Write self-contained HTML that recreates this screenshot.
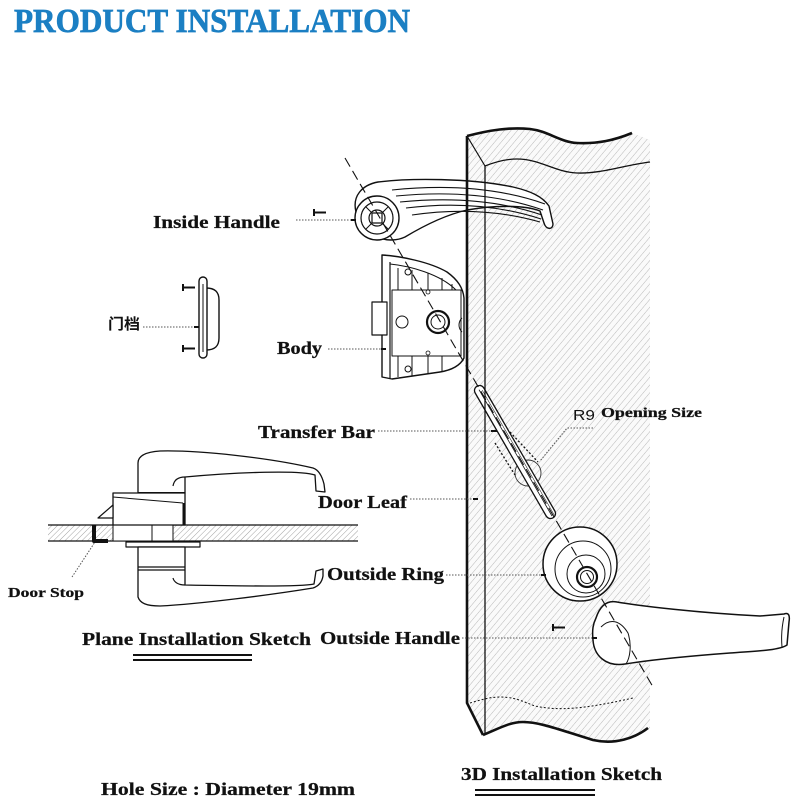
<!DOCTYPE html>
<html><head><meta charset="utf-8"><style>
html,body{margin:0;padding:0;background:#fff;}
svg{display:block;}
.lb{font-family:"Liberation Serif","Noto Serif CJK SC",serif;font-weight:bold;fill:#111;stroke:#111;stroke-width:0.25;}
.ld{stroke:#555;stroke-width:1;stroke-dasharray:1.5 1.5;fill:none;}
</style></head><body>
<svg width="800" height="800" viewBox="0 0 800 800" xmlns="http://www.w3.org/2000/svg">
<defs>
<pattern id="h" width="5" height="5" patternUnits="userSpaceOnUse" patternTransform="rotate(40)">
<rect width="5" height="5" fill="#fafafa"/>
<line x1="0" y1="0" x2="0" y2="5" stroke="#b8b8b8" stroke-width="1"/>
</pattern>
<pattern id="h2" width="4" height="4" patternUnits="userSpaceOnUse" patternTransform="rotate(45)">
<rect width="4" height="4" fill="#fff"/>
<line x1="0" y1="0" x2="0" y2="4" stroke="#999" stroke-width="0.9"/>
</pattern>
</defs>

<!-- Title -->
<text x="14" y="32" font-family="Liberation Serif, serif" font-weight="bold" font-size="34" fill="#1b7fc3" stroke="#1b7fc3" stroke-width="0.7" textLength="396" lengthAdjust="spacingAndGlyphs">PRODUCT INSTALLATION</text>

<!-- ============ DOOR (3D) ============ -->
<path d="M467,136 C490,130 510,127 530,129 C548,131 560,142 577,143 C598,144 615,140 632,133 L650,140 L650,728 C635,738 615,745 593,740 C560,730 540,722 523,722 C510,722 500,728 483,735 L467,703 Z" fill="url(#h)"/>

<!-- Inside handle -->
<g stroke="#111" fill="#fff" stroke-width="1.4" stroke-linejoin="round">
<path d="M356,212 C352,196 362,185 378,182 C410,178 470,178 513,187 C530,191 542,196 549,206 L553,224 C553,230 546,230 544,223 L540,211 C525,205 495,205 467,210 C445,215 425,225 405,237 C390,244 365,240 356,212 Z"/>
<g fill="none" stroke-width="1.1">
<path d="M392,190 Q480,181 545,204"/>
<path d="M396,196 Q480,188 543,210"/>
<path d="M400,202 Q480,194 542,215"/>
<path d="M406,208 Q480,199 541,219"/>
<path d="M412,215 Q480,205 540,222"/>
</g>
<circle cx="377" cy="218" r="22"/>
<circle cx="377" cy="218" r="16" stroke-width="1.2"/>
<path d="M366,207 L371,212 M388,207 L383,212 M366,229 L371,224 M388,229 L383,224" fill="none" stroke-width="1"/>
<circle cx="377" cy="218" r="8" stroke-width="1.2"/>
<rect x="372" y="213" width="10" height="10" stroke-width="1.2"/>
</g>

<!-- Lock body -->
<g stroke="#111" fill="#fff" stroke-width="1.4" stroke-linejoin="round">
<path d="M382,255 C400,256 430,262 447,272 C458,280 463,288 464,298 L464,358 C460,366 452,370 440,372 L392,379 L382,377 Z"/>
<path d="M390,264 C410,266 440,274 456,290" fill="none" stroke-width="1"/>
<line x1="390" y1="262" x2="390" y2="378" stroke-width="1.2"/>
<rect x="392" y="290" width="69" height="66" stroke-width="1"/>
<path d="M398,268 L398,290 M412,270 L412,290 M428,273 L428,290 M442,278 L442,290 M452,284 L452,290 M398,356 L398,377 M412,356 L412,376 M428,356 L428,374 M442,356 L442,372" fill="none" stroke-width="1"/>
<rect x="372" y="302" width="15" height="33" stroke-width="1.2"/>
<circle cx="402" cy="322" r="6" stroke-width="1"/>
<circle cx="438" cy="322" r="11" stroke-width="2.2"/>
<circle cx="438" cy="322" r="7" stroke-width="1"/>
<circle cx="428" cy="292" r="2" stroke-width="0.8"/>
<circle cx="428" cy="353" r="2" stroke-width="0.8"/>
<circle cx="408" cy="272" r="3" stroke-width="1"/>
<circle cx="408" cy="369" r="3" stroke-width="1"/>
<path d="M462,318 C458,322 458,328 462,332" fill="none" stroke-width="1"/>
</g>

<!-- Transfer bar -->
<g stroke="#111" fill="#fff" stroke-linejoin="round">
<circle cx="528" cy="473" r="13" stroke-width="0.9" fill="none" stroke="#333"/>
<g transform="translate(515,452) rotate(60)">
<rect x="-76" y="-5" width="152" height="10" rx="5" stroke-width="1.3"/>
<line x1="-72" y1="0" x2="74" y2="0" stroke-width="0.8"/>
<line x1="-70" y1="-2.5" x2="74" y2="-2.5" stroke-width="0.5"/>
</g>
<path d="M495,443 L515,475 M510,432 L538,462" stroke-width="1.3" stroke-dasharray="2 2" fill="none"/>
</g>

<!-- Outside ring -->
<g stroke="#111" fill="#fff">
<circle cx="580" cy="564" r="37" stroke-width="1.5"/>
<circle cx="583" cy="569" r="28" stroke-width="1"/>
<circle cx="586" cy="574" r="19" stroke-width="1"/>
<circle cx="587" cy="577" r="10" stroke-width="2.2"/>
<circle cx="587" cy="577" r="6.5" stroke-width="1"/>
</g>

<!-- Outside handle -->
<g stroke="#111" fill="#fff" stroke-width="1.5" stroke-linejoin="round">
<path d="M596,618 C600,606 607,600 617,602 C640,606 700,613 760,616 L784,614 C789,612 790,616 789,622 L787,645 C780,650 760,651 730,653 C690,656 650,660 625,664 C605,667 594,655 593,640 C592,630 593,624 596,618 Z"/>
<path d="M601,627 C610,618 620,620 628,633 C632,645 630,658 626,664" fill="none" stroke-width="1"/>
<path d="M784,617 C782,626 781,636 782,647" fill="none" stroke-width="1"/>
</g>

<!-- Door lines -->
<g stroke="#111" fill="none">
<path d="M467,136 L467,703 L483,735" stroke-width="2.6"/>
<line x1="485" y1="166" x2="485" y2="735" stroke-width="1.3"/>
<line x1="467" y1="136" x2="485" y2="166" stroke-width="1.2"/>
<path d="M467,136 C490,130 510,127 530,129 C548,131 560,142 577,143 C598,144 615,140 632,133" stroke-width="2.6"/>
<path d="M485,166 C495,162 505,159 517,159 C540,159 555,172 577,173 C600,174 625,165 650,162" stroke-width="1.3"/>
<path d="M483,735 C500,728 510,722 523,722 C540,722 560,730 593,740 C615,745 635,738 648,728" stroke-width="2.6"/>
<path d="M470,703 C480,700 490,697 500,697 C520,697 530,706 540,707 C560,710 580,710 633,698" stroke-width="1" stroke-dasharray="2 2"/>
</g>

<!-- Axis dashed -->
<line x1="345" y1="158" x2="653" y2="687" stroke="#111" stroke-width="1.1" stroke-dasharray="10 5"/>

<!-- Door stop part -->
<g stroke="#111" fill="#fff" stroke-width="1.4">
<path d="M206,288 C215,288 219,292 219,300 L219,338 C219,346 215,350 206,350 Z"/>
<rect x="199" y="277" width="8" height="81" rx="4"/>
<line x1="203" y1="284" x2="203" y2="352" stroke-width="1"/>
</g>

<!-- Screws -->
<g stroke="#111" stroke-width="2" fill="none">
<path d="M314,209 L314,216 M314,212.5 L326,212.5"/>
<path d="M183,284 L183,291 M183,287.5 L195,287.5"/>
<path d="M183,345 L183,352 M183,348.5 L195,348.5"/>
<path d="M553,624 L553,631 M553,627.5 L565,627.5"/>
</g>

<!-- ============ PLANE SKETCH ============ -->
<g stroke="#111" stroke-linejoin="round">
<rect x="48" y="525" width="310" height="16" fill="url(#h2)" stroke="none"/>
<line x1="48" y1="525" x2="358" y2="525" stroke-width="1.2"/>
<line x1="48" y1="541" x2="358" y2="541" stroke-width="1.2"/>
<rect x="113" y="525" width="39" height="16" fill="#fff" stroke-width="1"/>
<rect x="152" y="525" width="21" height="16" fill="#fff" stroke-width="1"/>
<path d="M94,525 L94,541 L108,541" fill="none" stroke-width="4"/>
<rect x="126" y="542" width="74" height="5" fill="#fff" stroke-width="1.2"/>
<!-- upper handle -->
<path d="M138,493 L138,463 C138,456 145,452 160,451 C200,450 270,458 313,468 C319,470 322,476 324,484 L325,492 L316,491 L315,475 C300,470 240,472 185,477 L185,493 Z" fill="#fff" stroke-width="1.3"/>
<path d="M185,477 C178,477 174,480 173,486" fill="none" stroke-width="1.2"/>
<line x1="138" y1="493" x2="185" y2="493" stroke-width="2"/>
<path d="M113,493 L185,493 L185,525 L113,525 Z" fill="#fff" stroke-width="1.3"/>
<path d="M113,497 L183,503" fill="none" stroke-width="1"/>
<line x1="184" y1="503" x2="184" y2="525" stroke-width="3"/>
<path d="M98,518 L113,505 L113,518 Z" fill="#fff" stroke-width="1.2"/>
<!-- lower handle -->
<path d="M138,547 L138,597 C140,603 146,606 160,606 C200,604 270,595 313,588 C319,586 322,582 323,576 L323,569 L316,571 L314,584 C300,587 240,586 185,585 L185,547 Z" fill="#fff" stroke-width="1.3"/>
<path d="M185,585 C178,585 174,582 173,578" fill="none" stroke-width="1.2"/>
<line x1="138" y1="567" x2="185" y2="567" stroke-width="1.2"/>
<line x1="138" y1="570" x2="185" y2="570" stroke-width="1.2"/>
</g>

<!-- Leader lines -->
<g class="ld">
<line x1="296" y1="220" x2="355" y2="220"/>
<line x1="143" y1="327" x2="198" y2="327"/>
<line x1="328" y1="349" x2="385" y2="349"/>
<line x1="378" y1="431" x2="497" y2="431"/>
<line x1="410" y1="499" x2="476" y2="499"/>
<line x1="446" y1="575" x2="545" y2="575"/>
<line x1="462" y1="638" x2="595" y2="638"/>
<polyline points="593,428 567,428 540,461"/>
<line x1="72" y1="577" x2="95" y2="542"/>
</g>
<g stroke="#111" stroke-width="2">
<line x1="351" y1="220" x2="356" y2="220"/>
<line x1="194" y1="327" x2="199" y2="327"/>
<line x1="381" y1="349" x2="386" y2="349"/>
<line x1="491" y1="431" x2="497" y2="431"/>
<line x1="473" y1="499" x2="478" y2="499"/>
<line x1="541" y1="575" x2="546" y2="575"/>
<line x1="592" y1="638" x2="597" y2="638"/>
</g>

<!-- Labels -->
<text class="lb" x="153" y="228" font-size="18" textLength="127" lengthAdjust="spacingAndGlyphs">Inside Handle</text>
<text x="108" y="329" font-family="Liberation Sans, Noto Sans CJK SC, sans-serif" font-weight="bold" font-size="15" fill="#111" textLength="32" lengthAdjust="spacingAndGlyphs">门档</text>
<text class="lb" x="277" y="354" font-size="18" textLength="45" lengthAdjust="spacingAndGlyphs">Body</text>
<text class="lb" x="258" y="438" font-size="18" textLength="117" lengthAdjust="spacingAndGlyphs">Transfer Bar</text>
<text class="lb" x="318" y="508" font-size="18" textLength="89" lengthAdjust="spacingAndGlyphs">Door Leaf</text>
<text class="lb" x="327" y="580" font-size="18" textLength="117" lengthAdjust="spacingAndGlyphs">Outside Ring</text>
<text class="lb" x="320" y="644" font-size="18" textLength="140" lengthAdjust="spacingAndGlyphs">Outside Handle</text>
<text class="lb" x="8" y="597" font-size="14" textLength="76" lengthAdjust="spacingAndGlyphs">Door Stop</text>
<text class="lb" x="82" y="645" font-size="18" textLength="229" lengthAdjust="spacingAndGlyphs">Plane Installation Sketch</text>
<text x="573" y="420" font-family="Liberation Sans, sans-serif" font-size="15" fill="#111" textLength="22" lengthAdjust="spacingAndGlyphs">R9</text>
<text class="lb" x="601" y="417" font-size="14" textLength="101" lengthAdjust="spacingAndGlyphs">Opening Size</text>
<text class="lb" x="461" y="780" font-size="18" textLength="201" lengthAdjust="spacingAndGlyphs">3D Installation Sketch</text>
<text class="lb" x="101" y="795" font-size="18" textLength="254" lengthAdjust="spacingAndGlyphs">Hole  Size : Diameter 19mm</text>

<!-- Double underlines -->
<g stroke="#111" stroke-width="2">
<line x1="133" y1="655" x2="252" y2="655"/>
<line x1="133" y1="660" x2="252" y2="660"/>
<line x1="475" y1="790" x2="595" y2="790"/>
<line x1="475" y1="795" x2="595" y2="795"/>
</g>
</svg>
</body></html>
